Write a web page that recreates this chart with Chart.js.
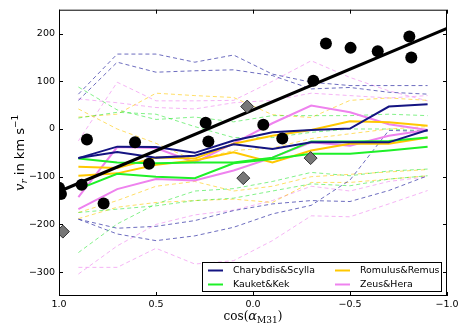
<!DOCTYPE html>
<html lang="en">
<head>
  <meta charset="UTF-8" />
  <title>Radial velocity vs cos(alpha)</title>
  <script src="https://cdn.jsdelivr.net/npm/chart.js"></script>
  <style>
    html, body { margin: 0; padding: 0; background: #fff; }
    #wrap { width: 463px; height: 331px; }
  </style>
</head>
<body>
  <div id="wrap"><canvas id="vrChart"></canvas></div>

  <script>
    // sample positions of the model curves (cos alpha)
    const cosBins = [0.9, 0.7, 0.5, 0.3, 0.1, -0.1, -0.3, -0.5, -0.7, -0.9];

    // solid = mean curves, dashed = spread around them
    const charybdisSolid = [
      [-61, -37, -38, -50, -24, -7, -2, 1, 47, 52],
      [-61, -48, -60, -56, -32, -42, -28, -28, -28, -2]
    ];
    const charybdisDashed = [
      [73, 157, 157, 140, 155, 115, 98, 91, 91, 91],
      [60, 140, 119, 122, 124, 112, 84, 87, 77, 73],
      [-189, -208, -204, -192, -171, -157, -150, -152, -129, -98],
      [-189, -220, -234, -224, -206, -178, -160, -107, -3, -5]
    ];
    const kauketSolid = [
      [-62, -70, -72, -70, -70, -60, -26, -26, -25, -18],
      [-126, -94, -100, -103, -72, -63, -52, -52, -45, -37]
    ];
    const kauketDashed = [
      [88, 40, 20, 25, 15, 28, 28, 28, 31, 28],
      [23, 35, 31, 5, -18, -18, -7, 0, 0, -4],
      [-259, -199, -157, -130, -125, -110, -91, -98, -88, -84],
      [-175, -168, -161, -150, -145, -130, -115, -119, -105, -98]
    ];
    const romulusSolid = [
      [-79, -82, -60, -62, -31, -14, -2, 16, 14, 7],
      [-98, -93, -75, -66, -49, -70, -45, -31, -31, -18]
    ];
    const romulusDashed = [
      [25, 31, 75, 70, 66, 30, 24, 60, 65, 60],
      [42, 0, -30, -66, -45, -40, -20, -10, 0, 5],
      [-188, -164, -154, -150, -147, -154, -112, -112, -105, -98],
      [-175, -150, -120, -110, -130, -120, -100, -95, -90, -85]
    ];
    const zeusSolid = [
      [-143, -38, -40, -70, -30, 12, 49, 35, 10, -2],
      [-168, -126, -105, -108, -87, -60, -28, -35, -14, -2]
    ];
    const zeusDashed = [
      [-25, 98, 59, 59, 60, 100, 143, 108, 80, 59],
      [63, 55, 45, 42, 55, 60, 75, 70, 65, 70],
      [-290, -290, -250, -283, -276, -234, -182, -184, -157, -129],
      [-304, -245, -200, -180, -170, -150, -120, -130, -110, -100]
    ];

    // observed satellites
    const dotX = [1.0, 0.99, 0.883, 0.856, 0.77, 0.608, 0.536, 0.244, 0.23, -0.053, -0.151, -0.311, -0.376, -0.503, -0.643, -0.806, -0.816];
    const dotY = [-123, -136, -117, -22, -156, -28, -73, 13, -26, 9, -20, 101, 179, 170, 163, 194, 150];
    const diamondX = [0.98, 0.03, 0.05, -0.297];
    const diamondY = [-215, 47, -103, -61];

    // straight fit through the observed points
    const fitX = [1.0, -1.0];
    const fitY = [-131, 211];

    const xTicks = [1.0, 0.5, 0.0, -0.5, -1.0];
    const yTicks = [-300, -200, -100, 0, 100, 200];

    const groups = [
      { name: 'Charybdis&Scylla', color: 'rgb(20,20,130)', faint: 'rgba(60,60,170,0.75)', solid: charybdisSolid, dashed: charybdisDashed },
      { name: 'Kauket&Kek', color: 'rgb(30,240,40)', faint: 'rgba(30,230,40,0.55)', solid: kauketSolid, dashed: kauketDashed },
      { name: 'Romulus&Remus', color: 'rgb(255,200,0)', faint: 'rgba(255,200,0,0.6)', solid: romulusSolid, dashed: romulusDashed },
      { name: 'Zeus&Hera', color: 'rgb(238,130,238)', faint: 'rgba(238,130,238,0.6)', solid: zeusSolid, dashed: zeusDashed }
    ];

    const toPts = (xsArr, ysArr) => xsArr.map((x, i) => ({ x, y: ysArr[i] }));
    const minus = s => String(s).replace('-', '\u2212');

    const datasets = [];
    groups.forEach(g => {
      g.dashed.forEach(vals => datasets.push({
        data: toPts(cosBins, vals), showLine: true, borderColor: g.faint,
        borderWidth: 1, borderDash: [4, 3], pointRadius: 0, order: 5
      }));
    });
    groups.forEach(g => {
      g.solid.forEach(vals => datasets.push({
        data: toPts(cosBins, vals), showLine: true, borderColor: g.color,
        borderWidth: 2, pointRadius: 0, order: 4
      }));
    });
    datasets.push({
      data: toPts(fitX, fitY), showLine: true, borderColor: '#000',
      borderWidth: 3, pointRadius: 0, order: 3
    });
    datasets.push({
      data: toPts(dotX, dotY), showLine: false, pointRadius: 6, pointBorderWidth: 0,
      pointBackgroundColor: '#000', order: 2
    });
    datasets.push({
      data: toPts(diamondX, diamondY), showLine: false, pointStyle: 'rectRot',
      pointRadius: 6.5, pointBackgroundColor: '#777', pointBorderColor: '#333',
      pointBorderWidth: 1, order: 1
    });

    // frame, inward ticks, axis titles and legend box drawn like matplotlib
    const decor = {
      id: 'decor',
      afterDatasetsDraw(chart) {
        const c = chart.ctx, a = chart.chartArea;
        const xs = chart.scales.x, ys = chart.scales.y;
        c.save();
        c.strokeStyle = '#000';
        c.lineWidth = 1;
        c.strokeRect(a.left + 0.5, a.top + 0.5, a.right - a.left - 1, a.bottom - a.top - 1);
        c.beginPath();
        xTicks.forEach(v => {
          const px = Math.round(xs.getPixelForValue(v)) + 0.5;
          c.moveTo(px, a.bottom); c.lineTo(px, a.bottom - 4);
          c.moveTo(px, a.top); c.lineTo(px, a.top + 4);
        });
        yTicks.forEach(v => {
          const py = Math.round(ys.getPixelForValue(v)) + 0.5;
          c.moveTo(a.left, py); c.lineTo(a.left + 4, py);
          c.moveTo(a.right, py); c.lineTo(a.right - 4, py);
        });
        c.stroke();

        // legend
        const lx = 202.5, ly = 262.5, lw = 239, lh = 29;
        c.fillStyle = '#fff';
        c.fillRect(lx, ly, lw, lh);
        c.strokeRect(lx, ly, lw, lh);
        const slots = [[208, 270.5], [208, 284.5], [335, 270.5], [335, 284.5]];
        c.font = '9.4px "DejaVu Sans"';
        c.textBaseline = 'middle';
        groups.forEach((g, i) => {
          const [sx, sy] = slots[i];
          c.strokeStyle = g.color;
          c.lineWidth = 2;
          c.beginPath(); c.moveTo(sx, sy); c.lineTo(sx + 15, sy); c.stroke();
          c.fillStyle = '#000';
          c.fillText(g.name, sx + 25, sy);
        });

        // x title: cos(alpha_M31)
        c.fillStyle = '#000';
        c.textBaseline = 'alphabetic';
        const cx = (a.left + a.right) / 2;
        const parts = [['cos(', '12px "DejaVu Serif"', 0], ['\u03b1', 'italic 13px "DejaVu Serif"', 0], ['M31', '9px "DejaVu Serif"', 3], [')', '12px "DejaVu Serif"', 0]];
        let total = 0;
        parts.forEach(p => { c.font = p[1]; total += c.measureText(p[0]).width; });
        let tx = cx - total / 2;
        parts.forEach(p => { c.font = p[1]; c.fillText(p[0], tx, 320 + p[2]); tx += c.measureText(p[0]).width; });

        // y title: v_r in km s^-1
        c.translate(24, (a.top + a.bottom) / 2);
        c.rotate(-Math.PI / 2);
        const yparts = [['v', 'italic 13px "DejaVu Serif"', 0], ['r', 'italic 9px "DejaVu Serif"', 3], [' in km s', '13px "DejaVu Sans"', 0], ['\u22121', '9px "DejaVu Sans"', -6]];
        total = 0;
        yparts.forEach(p => { c.font = p[1]; total += c.measureText(p[0]).width; });
        tx = -total / 2;
        yparts.forEach(p => { c.font = p[1]; c.fillText(p[0], tx, p[2]); tx += c.measureText(p[0]).width; });
        c.restore();
      }
    };

    new Chart(document.getElementById('vrChart'), {
      type: 'scatter',
      data: { datasets },
      options: {
        responsive: true,
        maintainAspectRatio: false,
        animation: false,
        layout: { padding: { top: 9, right: 16, left: 0, bottom: 0 } },
        plugins: { legend: { display: false }, tooltip: { enabled: false } },
        scales: {
          x: {
            type: 'linear', reverse: true, min: -1, max: 1,
            grid: { display: false, drawTicks: false }, border: { display: false },
            afterBuildTicks: s => { s.ticks = xTicks.map(v => ({ value: v })); },
            afterFit: s => { s.height = 35; },
            ticks: {
              padding: 3, color: '#000', maxRotation: 0,
              font: { family: 'DejaVu Sans', size: 9.5 },
              callback: v => minus(Number(v).toFixed(1))
            }
          },
          y: {
            type: 'linear', min: -350, max: 250,
            grid: { display: false, drawTicks: false }, border: { display: false },
            afterBuildTicks: s => { s.ticks = yTicks.map(v => ({ value: v })); },
            afterFit: s => { s.width = 59; },
            ticks: {
              padding: 4, color: '#000',
              font: { family: 'DejaVu Sans', size: 9.5 },
              callback: v => minus(v)
            }
          }
        }
      },
      plugins: [decor]
    });
  </script>
</body>
</html>
